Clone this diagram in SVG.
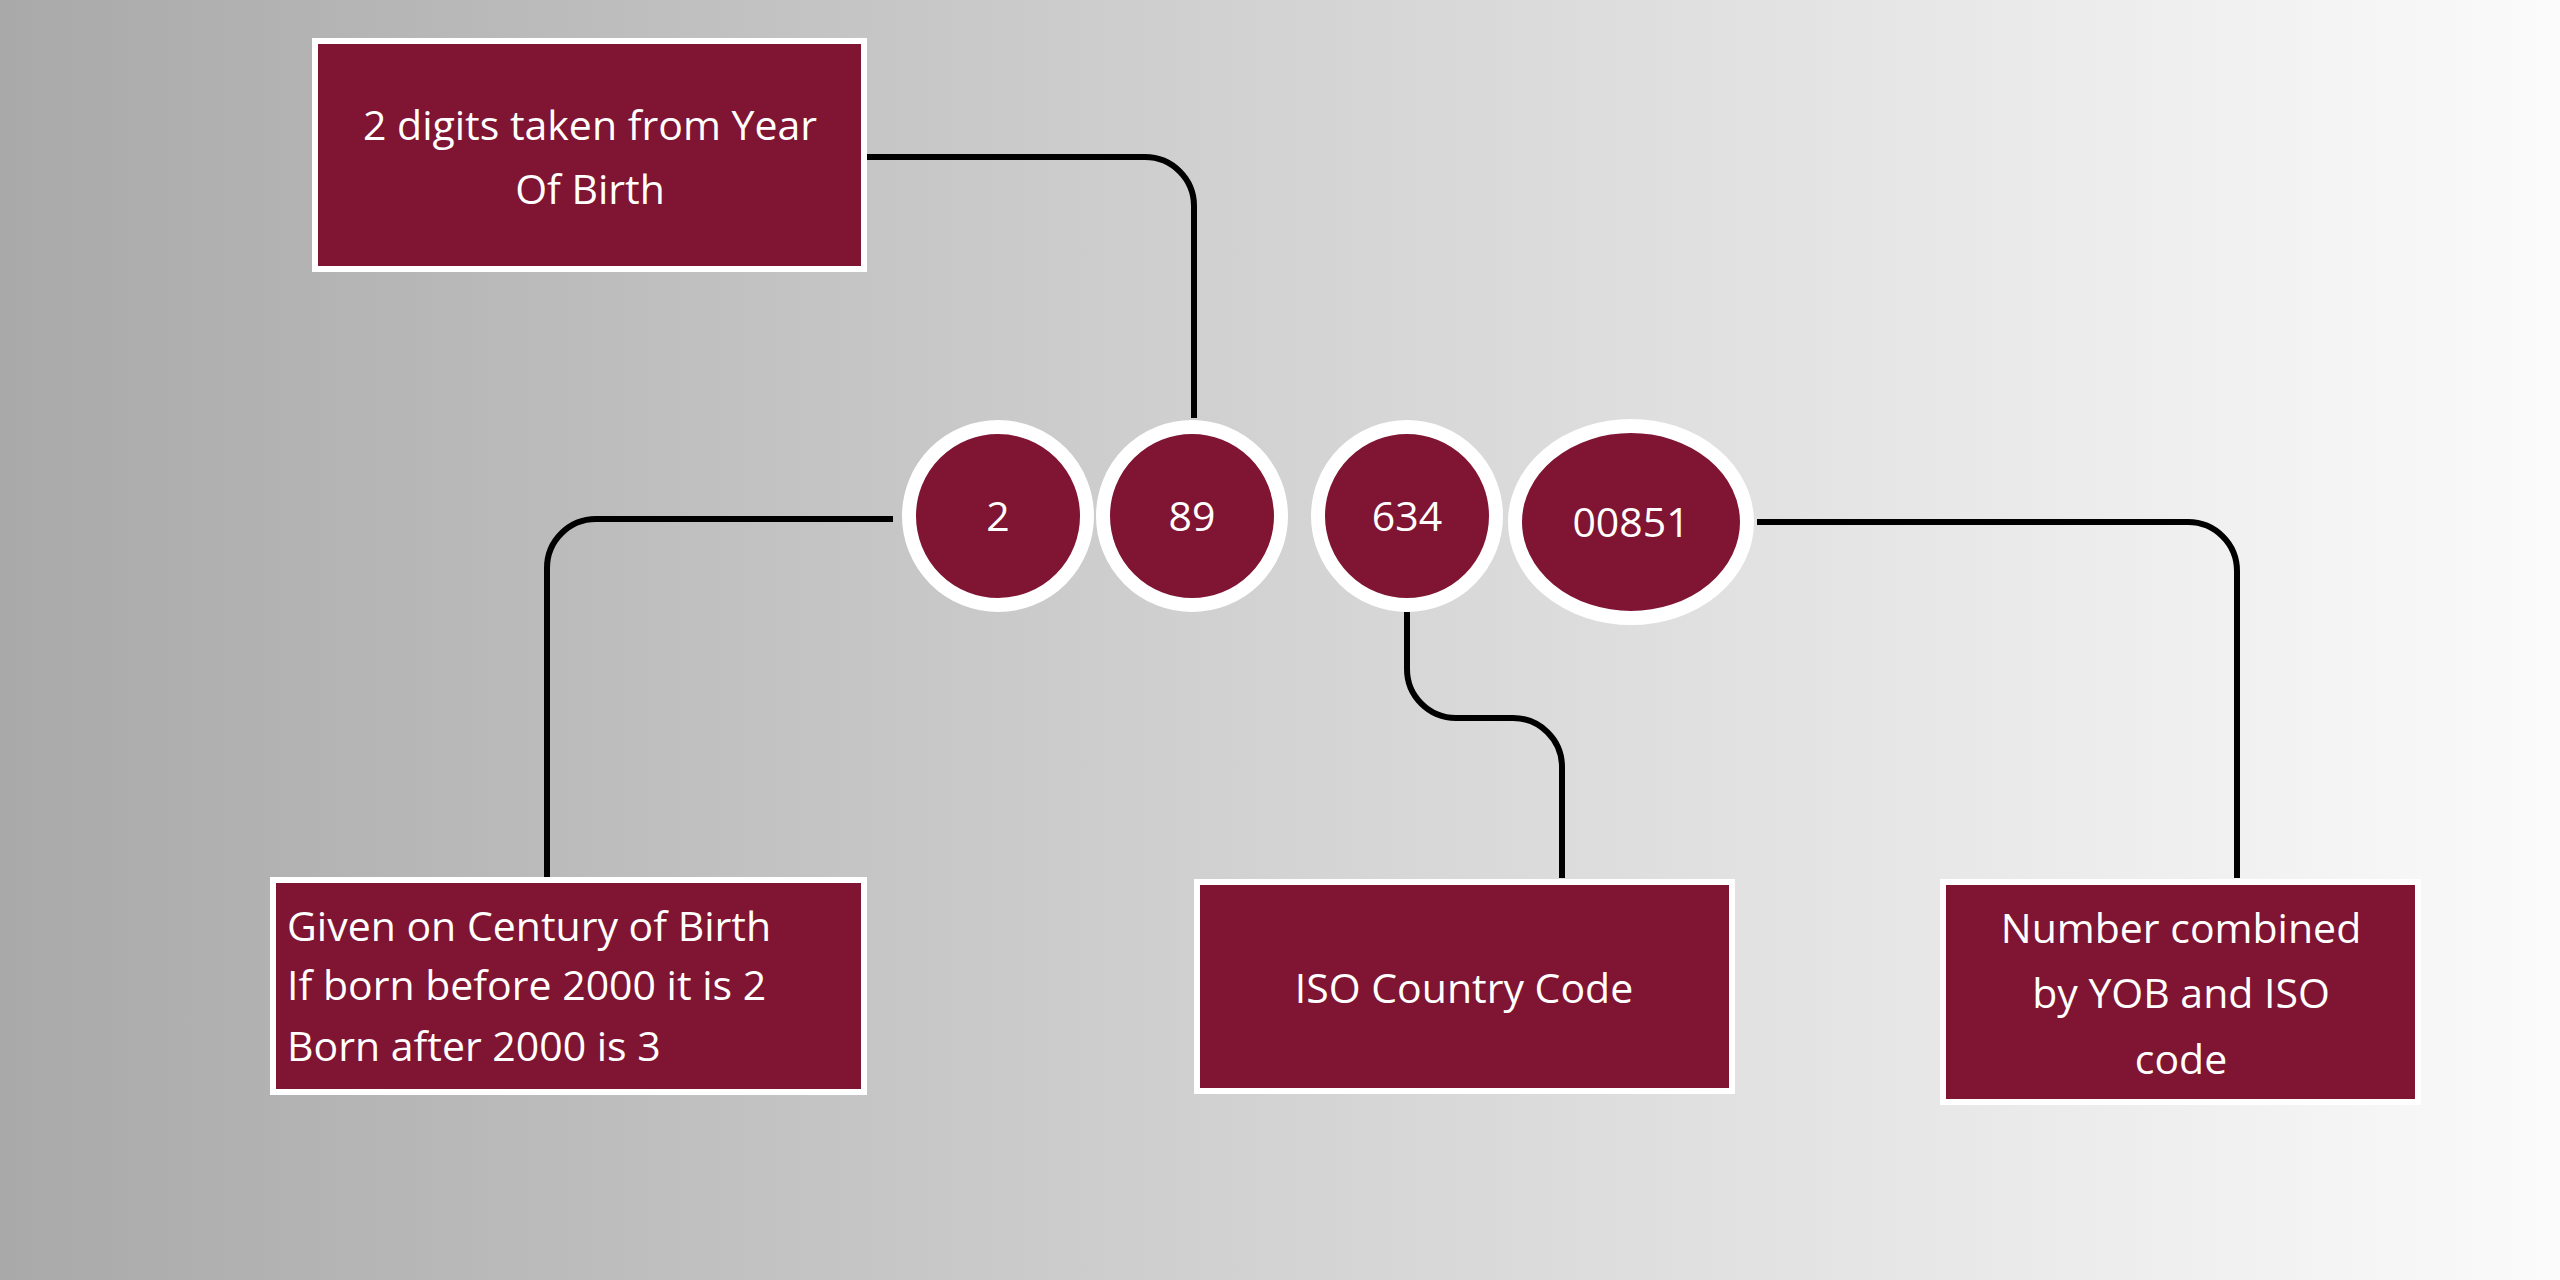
<svg xmlns="http://www.w3.org/2000/svg" width="2560" height="1280" viewBox="0 0 2560 1280">
<defs>
<linearGradient id="bg" x1="0" y1="0" x2="1" y2="0"><stop offset="0" stop-color="#a9a9a9"/><stop offset="0.5" stop-color="#d3d3d3"/><stop offset="1" stop-color="#fbfbfb"/></linearGradient>
<style>
.box{fill:#7f1433;stroke:#fff;stroke-width:6}
.node{fill:#7f1433;stroke:#fff;stroke-width:14}
.t{font-family:"Open Sans","Noto Sans",sans-serif;font-size:41px;fill:#fff}
.c{fill:none;stroke:#000;stroke-width:6}
</style>
</defs>
<rect width="2560" height="1280" fill="url(#bg)"/>
<g id="connectors">
<path class="c" d="M864 157 H1145 A49 49 0 0 1 1194 206 V418"/>
<path class="c" d="M893 519 H596 A49 49 0 0 0 547 568 V878"/>
<path class="c" d="M1407 612 V669 A49 49 0 0 0 1456 718 H1513 A49 49 0 0 1 1562 767 V878"/>
<path class="c" d="M1757 522 H2188 A49 49 0 0 1 2237 571 V878"/>
</g>
<g id="box-yob"><rect class="box" x="315" y="41" width="549" height="228"/><text class="t" text-anchor="middle" x="590" y="140">2 digits taken from Year</text><text class="t" text-anchor="middle" x="590" y="204">Of Birth</text></g>
<g id="n2"><circle class="node" cx="998" cy="516" r="89"/><text class="t" text-anchor="middle" x="998" y="531">2</text></g>
<g id="n89"><circle class="node" cx="1192" cy="516" r="89"/><text class="t" text-anchor="middle" x="1192" y="531">89</text></g>
<g id="n634"><circle class="node" cx="1407" cy="516" r="89"/><text class="t" text-anchor="middle" x="1407" y="531">634</text></g>
<g id="n00851"><ellipse class="node" cx="1631" cy="522" rx="116" ry="96"/><text class="t" text-anchor="middle" x="1631" y="537">00851</text></g>
<g id="box-century"><rect class="box" x="273" y="880" width="591" height="212"/><text class="t" x="287" y="941">Given on Century of Birth</text><text class="t" x="287" y="1000">If born before 2000 it is 2</text><text class="t" x="287" y="1061">Born after 2000 is 3</text></g>
<g id="box-iso"><rect class="box" x="1197" y="882" width="535" height="209"/><text class="t" text-anchor="middle" x="1464" y="1003">ISO Country Code</text></g>
<g id="box-number"><rect class="box" x="1943" y="882" width="475" height="220"/><text class="t" text-anchor="middle" x="2181" y="943">Number combined</text><text class="t" text-anchor="middle" x="2181" y="1008">by YOB and ISO</text><text class="t" text-anchor="middle" x="2181" y="1074">code</text></g>
</svg>
